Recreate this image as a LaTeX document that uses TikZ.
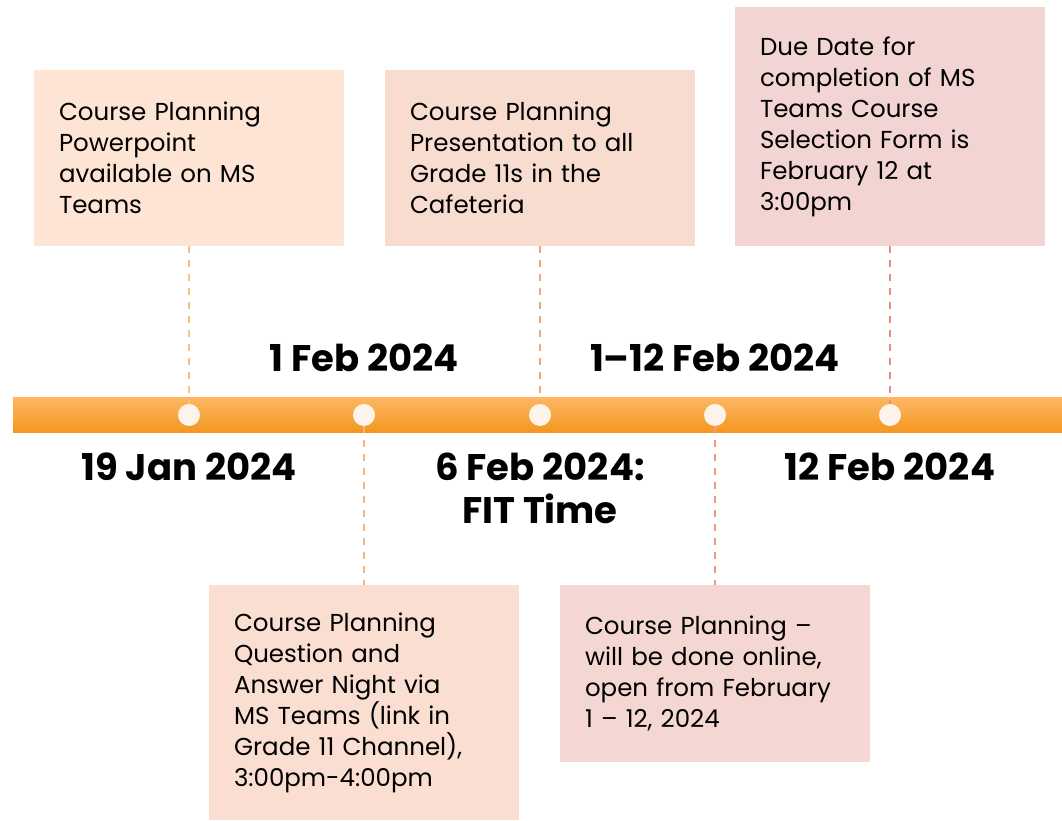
\documentclass[tikz,border=0pt]{standalone}
\usepackage{fontspec}
\setmainfont{Poppins}
\definecolor{barlight}{HTML}{FDB661}
\definecolor{bardark}{HTML}{F3961F}
\definecolor{dotfill}{HTML}{FDF3EA}
\definecolor{boxa}{HTML}{FDE4D4}
\definecolor{boxb}{HTML}{F9DCD0}
\definecolor{boxc}{HTML}{F2D4D2}
\definecolor{boxd}{HTML}{FBDED2}
\definecolor{boxe}{HTML}{F4D7D2}
\definecolor{linea}{HTML}{F9C07E}
\definecolor{lineb}{HTML}{F4A57C}
\definecolor{linec}{HTML}{E58F7E}
\definecolor{lined}{HTML}{F8B67E}
\definecolor{linee}{HTML}{EE9A7E}
\begin{document}
\begin{tikzpicture}[x=1pt, y=1pt,
    event/.style={minimum width=310pt, text width=260pt, inner xsep=25pt, align=left,
                  font=\fontsize{24.5}{31}\selectfont},
    datelabel/.style={font=\bfseries\fontsize{37}{43}\selectfont, align=center},
    dot/.style={circle, fill=dotfill, minimum size=22pt, inner sep=0pt},
    tick/.style={dash pattern=on 7pt off 7pt, line width=1.8pt}]
    \useasboundingbox (0,0) rectangle (1062,820);
    % timeline bar
    \shade[top color=barlight, bottom color=bardark] (13,387) rectangle (1062,422);
    % event boxes
    \node[event, fill=boxa, minimum height=176pt] at (189,662) (ppt) {Course Planning\\Powerpoint\\available on MS\\Teams};
    \node[event, fill=boxb, minimum height=176pt] at (540,662) (caf) {Course Planning\\Presentation to all\\Grade 11s in the\\Cafeteria};
    \node[event, fill=boxc, minimum height=239pt] at (890,693.5) (due) {Due Date for\\completion of MS\\Teams Course\\Selection Form is\\February 12 at\\3:00pm};
    \node[event, fill=boxd, minimum height=235pt] at (364,117.5) (qa) {Course Planning\\Question and\\Answer Night via\\MS Teams (link in\\Grade 11 Channel),\\3:00pm-4:00pm};
    \node[event, fill=boxe, minimum height=177pt] at (715,146.5) (online) {Course Planning --\\will be done online,\\open from February\\1 -- 12, 2024};
    % dots
    \node[dot] at (189,405) (d1) {};
    \node[dot] at (364,405) (d2) {};
    \node[dot] at (540,405) (d3) {};
    \node[dot] at (715,405) (d4) {};
    \node[dot] at (890,405) (d5) {};
    % ticks
    \path
        (ppt.south) edge[tick, draw=linea] (d1)
        (caf.south) edge[tick, draw=lineb] (d3)
        (due.south) edge[tick, draw=linec] (d5)
        (d2) edge[tick, draw=lined] (qa.north)
        (d4) edge[tick, draw=linee] (online.north);
    % date labels
    \node[datelabel] at (364,462) (lbfeb) {1 Feb 2024};
    \node[datelabel] at (715,462) (lbrange) {1--12 Feb 2024};
    \node[datelabel] at (189,353) (lbjan) {19 Jan 2024};
    \node[datelabel] at (540,331.5) (lbfit) {6 Feb 2024:\\FIT Time};
    \node[datelabel] at (890,353) (lbdue) {12 Feb 2024};
\end{tikzpicture}
\end{document}
